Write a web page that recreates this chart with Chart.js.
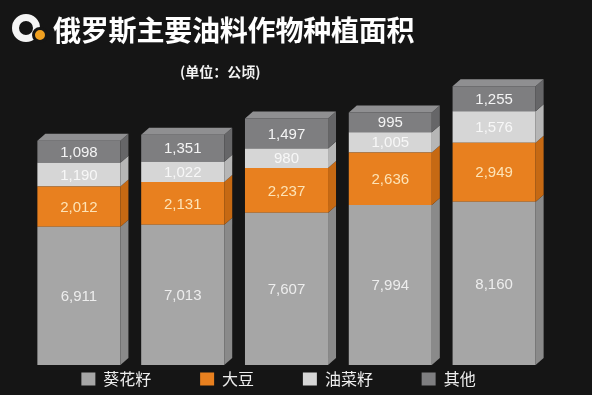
<!DOCTYPE html>
<html>
<head>
<meta charset="utf-8">
<script src="https://cdn.jsdelivr.net/npm/chart.js@4"></script>
<style>
  html, body { margin: 0; padding: 0; background: #151515; }
  #wrap { position: relative; width: 592px; height: 395px; background: #151515; overflow: hidden; }
  #chart { position: absolute; left: 0; top: 0; }
  .ring { position: absolute; left: 12px; top: 14px; width: 14px; height: 14px; border: 7px solid #f4f4f4; border-radius: 50%; }
  .dot { position: absolute; left: 32px; top: 27px; width: 10px; height: 10px; border: 3px solid #151515; border-radius: 50%; background: #f0a020; }
  .title { position: absolute; left: 53px; top: 11px; font: bold 28px "Noto Sans CJK SC", sans-serif; color: #ffffff; line-height: 36px; white-space: nowrap; letter-spacing: -0.2px; }
  .unit { position: absolute; left: 180px; top: 61px; font: bold 14px "Noto Sans CJK SC", sans-serif; color: #f2f2f2; line-height: 20px; white-space: nowrap; }
</style>
</head>
<body>
<div id="wrap">
  <canvas id="chart" width="592" height="395"></canvas>
  <div class="ring"></div>
  <div class="dot"></div>
  <div class="title">俄罗斯主要油料作物种植面积</div>
  <div class="unit">(单位：公顷)</div>
</div>
<script>
// 种植面积 (公顷), 每根柱子一个类别，图中没有标出类别名
const categories = ['1', '2', '3', '4', '5'];
const sunflower = [6911, 7013, 7607, 7994, 8160];
const soybean = [2012, 2131, 2237, 2636, 2949];
const rapeseed = [1190, 1022, 980, 1005, 1576];
const others = [1098, 1351, 1497, 995, 1255];
const seriesNames = ['葵花籽', '大豆', '油菜籽', '其他'];
const yMax = 14000;

const frontColors = ['#a6a6a6', '#e8801f', '#d6d6d6', '#7e7e80'];
const sideColors = ['#8a8a8a', '#c66913', '#b6b6b6', '#666668'];
const topColor = '#8f8f91';
const labelColors = ['#ededed', '#fde3b6', '#f7f7f7', '#f4f4f4'];

// side and top faces for the fake 3D look
const bar3d = {
    id: 'bar3d',
    afterDatasetsDraw(chart) {
        const ctx = chart.ctx;
        const dx = 8, dy = 7;
        const last = chart.data.datasets.length - 1;
        ctx.save();
        chart.data.datasets.forEach((ds, di) => {
            chart.getDatasetMeta(di).data.forEach(bar => {
                const { x, y, base, width } = bar.getProps(['x', 'y', 'base', 'width'], true);
                const l = x - width / 2, r = x + width / 2;
                ctx.fillStyle = sideColors[di];
                ctx.beginPath();
                ctx.moveTo(r, y);
                ctx.lineTo(r + dx, y - dy);
                ctx.lineTo(r + dx, base - dy);
                ctx.lineTo(r, base);
                ctx.closePath();
                ctx.fill();
                if (di === last) {
                    ctx.fillStyle = topColor;
                    ctx.beginPath();
                    ctx.moveTo(l, y);
                    ctx.lineTo(l + dx, y - dy);
                    ctx.lineTo(r + dx, y - dy);
                    ctx.lineTo(r, y);
                    ctx.closePath();
                    ctx.fill();
                }
            });
        });
        ctx.restore();
    }
};

// value labels in the middle of each segment
const valueLabels = {
    id: 'valueLabels',
    afterDatasetsDraw(chart) {
        const ctx = chart.ctx;
        ctx.save();
        ctx.font = '15px "Liberation Sans", Arial, sans-serif';
        ctx.textAlign = 'center';
        ctx.textBaseline = 'middle';
        chart.data.datasets.forEach((ds, di) => {
            chart.getDatasetMeta(di).data.forEach((bar, i) => {
                const { x, y, base } = bar.getProps(['x', 'y', 'base'], true);
                ctx.fillStyle = labelColors[di];
                ctx.fillText(ds.data[i].toLocaleString('en-US'), x, (y + base) / 2 + 1);
            });
        });
        ctx.restore();
    }
};

const seriesData = [sunflower, soybean, rapeseed, others];

new Chart(document.getElementById('chart'), {
    type: 'bar',
    data: {
        labels: categories,
        datasets: seriesData.map((d, i) => ({
            label: seriesNames[i],
            data: d,
            backgroundColor: frontColors[i],
            borderWidth: 0,
            barPercentage: 0.8,
            categoryPercentage: 1.0
        }))
    },
    options: {
        responsive: false,
        animation: false,
        layout: {
            padding: { left: 27, right: 46, top: 85, bottom: -2 }
        },
        scales: {
            x: { stacked: true, display: false },
            y: { stacked: true, display: false, min: 0, max: yMax }
        },
        plugins: {
            legend: {
                position: 'bottom',
                labels: {
                    color: '#eeeeee',
                    boxWidth: 14,
                    boxHeight: 13,
                    padding: 6,
                    font: { family: '"Noto Sans CJK SC", sans-serif', size: 16 },
                    // wider gaps between items without making the legend taller
                    generateLabels(chart) {
                        const items = Chart.defaults.plugins.legend.labels.generateLabels(chart);
                        items.forEach((it, i) => {
                            it.text += (i < items.length - 1) ? '\u3000\u3000   ' : '\u3000';
                        });
                        return items;
                    }
                }
            },
            tooltip: { enabled: false }
        }
    },
    plugins: [bar3d, valueLabels]
});
</script>
</body>
</html>
